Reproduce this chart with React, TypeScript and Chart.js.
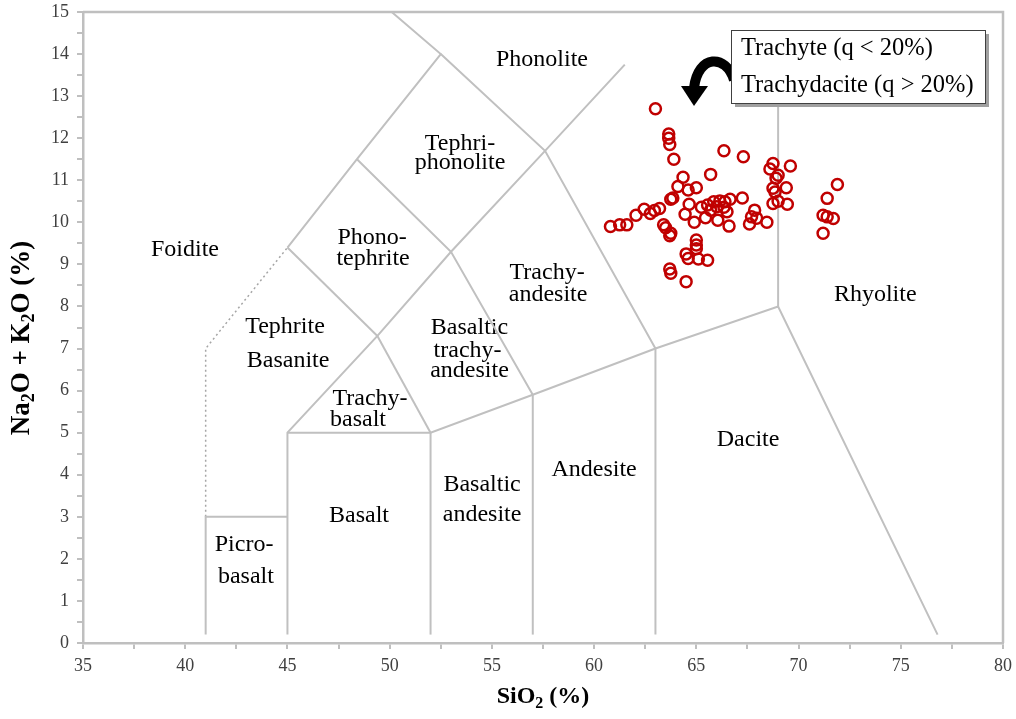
import React, { useEffect, useRef } from 'react';
import { Chart, registerables } from 'chart.js';

Chart.register(...registerables);

// ---- Axis ranges / ticks ----
const X_MIN = 35;
const X_MAX = 80;
const Y_MIN = 0;
const Y_MAX = 15;
const X_STEP = 2.5; // labelled every 5
const Y_STEP = 0.5; // labelled every 1

// ---- Sample data (SiO2 %, Na2O+K2O %) ----
const sampleSiO2 = [
  63.0, 63.65, 63.65, 63.7, 63.9, 66.35, 67.3, 68.75, 68.6, 69.6,
  69.0, 68.9, 68.75, 68.85, 69.4, 68.75, 69.0, 69.45, 71.9, 71.4,
  71.2, 71.4, 71.7, 71.2, 60.8, 61.25, 61.6, 62.05, 62.45, 62.75,
  62.95, 63.2, 63.75, 63.85, 64.35, 64.1, 64.6, 65.0, 65.7, 67.25,
  64.65, 64.45, 64.9, 65.45, 65.25, 65.55, 65.85, 66.15, 66.4, 66.65,
  65.7, 66.0, 66.35, 66.5, 66.05, 66.6, 67.85, 67.7, 67.95, 67.6,
  68.45, 63.4, 63.5, 63.75, 63.7, 65.0, 65.0, 65.0, 64.5, 64.6,
  65.1, 65.55, 63.7, 63.75, 64.5,
];
const sampleAlkali = [
  12.7, 12.1, 12.0, 11.85, 11.5, 11.7, 11.56, 11.4, 11.27, 11.34,
  11.12, 11.05, 10.81, 10.72, 10.82, 10.45, 10.5, 10.43, 10.9, 10.57,
  10.17, 10.13, 10.09, 9.74, 9.9, 9.94, 9.94, 10.17, 10.31, 10.21,
  10.28, 10.33, 10.55, 10.58, 11.07, 10.85, 10.77, 10.82, 11.14, 10.58,
  10.43, 10.19, 10.0, 10.11, 10.36, 10.41, 10.49, 10.51, 10.49, 10.55,
  10.29, 10.37, 10.36, 10.25, 10.05, 9.91, 10.29, 10.13, 10.1, 9.96,
  10.0, 9.94, 9.87, 9.74, 9.68, 9.58, 9.46, 9.37, 9.25, 9.14,
  9.13, 9.1, 8.89, 8.79, 8.59,
];

// ---- TAS field boundaries (data coordinates) ----
const boundaryLines: number[][][] = [
  [[41, 0.2], [41, 3], [45, 3]],
  [[45, 0.2], [45, 5], [49.4, 7.3], [53, 9.3], [57.6, 11.7], [61.5, 13.75]],
  [[45, 5], [52, 5], [57, 5.9], [63, 7], [69, 8], [76.8, 0.2]],
  [[52, 0.2], [52, 5]],
  [[57, 0.2], [57, 5.9]],
  [[63, 0.2], [63, 7]],
  [[69, 8], [69, 12.8]],
  [[49.4, 7.3], [52, 5]],
  [[45, 9.4], [49.4, 7.3]],
  [[45, 9.4], [48.4, 11.5], [52.5, 14], [50.1, 15]],
  [[48.4, 11.5], [53, 9.3], [57, 5.9]],
  [[52.5, 14], [57.6, 11.7], [63, 7]],
];
const dottedBoundary: number[][] = [[41, 3], [41, 7], [45, 9.4]];

// ---- Field names (text, SiO2, alkali) ----
const fieldNames: string[] = [
  'Phonolite', 'Tephri-', 'phonolite', 'Foidite', 'Phono-', 'tephrite',
  'Trachy-', 'andesite', 'Rhyolite', 'Tephrite', 'Basanite',
  'Basaltic', 'trachy-', 'andesite', 'Trachy-', 'basalt', 'Dacite',
  'Andesite', 'Basaltic', 'andesite', 'Basalt', 'Picro-', 'basalt',
];
const fieldX: number[] = [
  57.45, 53.44, 53.44, 39.99, 49.14, 49.19,
  57.7, 57.75, 73.75, 44.88, 45.03,
  53.905, 53.81, 53.905, 49.04, 48.45, 67.53,
  60.0, 54.52, 54.52, 48.5, 42.88, 42.97,
];
const fieldY: number[] = [
  13.86, 11.88, 11.41, 9.34, 9.63, 9.13,
  8.8, 8.27, 8.27, 7.51, 6.7,
  7.49, 6.96, 6.47, 5.8, 5.3, 4.83,
  4.11, 3.76, 3.05, 3.02, 2.33, 1.57,
];

const legendLines = ['Trachyte (q < 20%)', 'Trachydacite (q > 20%)'];

const SERIF = '"Liberation Serif", "Times New Roman", serif';
const GRAY = '#bfbfbf';
const RED = 'rgb(192,0,0)';

type Seg = { t: string; sub?: boolean };
function drawRich(ctx: CanvasRenderingContext2D, segs: Seg[], size: number, cx: number, cy: number) {
  const main = `bold ${size}px ${SERIF}`;
  const small = `bold ${Math.round(size * 0.65)}px ${SERIF}`;
  let total = 0;
  for (const s of segs) {
    ctx.font = s.sub ? small : main;
    total += ctx.measureText(s.t).width;
  }
  let x = cx - total / 2;
  ctx.textBaseline = 'middle';
  ctx.textAlign = 'left';
  for (const s of segs) {
    ctx.font = s.sub ? small : main;
    ctx.fillText(s.t, x, s.sub ? cy + size * 0.28 : cy);
    x += ctx.measureText(s.t).width;
  }
}

const decorPlugin = {
  id: 'tasDecor',
  beforeDatasetsDraw(chart: any) {
    const { ctx, chartArea, scales } = chart;
    ctx.save();
    // frame top & right
    ctx.strokeStyle = GRAY;
    ctx.lineWidth = 2.5;
    ctx.beginPath();
    ctx.moveTo(chartArea.left, chartArea.top);
    ctx.lineTo(chartArea.right, chartArea.top);
    ctx.lineTo(chartArea.right, chartArea.bottom);
    ctx.stroke();
    // field names
    ctx.fillStyle = '#000';
    ctx.font = `24px ${SERIF}`;
    ctx.textAlign = 'center';
    ctx.textBaseline = 'middle';
    for (let i = 0; i < fieldNames.length; i++) {
      ctx.fillText(fieldNames[i], scales.x.getPixelForValue(fieldX[i]), scales.y.getPixelForValue(fieldY[i]));
    }
    ctx.restore();
  },
  afterDraw(chart: any) {
    const { ctx, chartArea } = chart;
    ctx.save();
    // axis titles
    ctx.fillStyle = '#000';
    drawRich(ctx, [{ t: 'SiO' }, { t: '2', sub: true }, { t: ' (%)' }], 24, (chartArea.left + chartArea.right) / 2, 697);
    ctx.save();
    ctx.translate(22, 338);
    ctx.rotate(-Math.PI / 2);
    drawRich(ctx, [
      { t: 'Na' }, { t: '2', sub: true }, { t: 'O + K' }, { t: '2', sub: true }, { t: 'O (%)' },
    ], 27, 0, 0);
    ctx.restore();

    // curved arrow
    ctx.strokeStyle = '#000';
    ctx.fillStyle = '#000';
    ctx.lineWidth = 10;
    ctx.lineCap = 'butt';
    ctx.beginPath();
    ctx.moveTo(734, 80);
    ctx.bezierCurveTo(726, 54, 698, 54, 694, 88);
    ctx.stroke();
    ctx.beginPath();
    ctx.moveTo(681, 86);
    ctx.lineTo(708, 86);
    ctx.lineTo(694, 106);
    ctx.closePath();
    ctx.fill();

    // legend box with shadow
    const bx = 731, by = 30, bw = 254, bh = 73;
    ctx.fillStyle = '#a0a0a0';
    ctx.fillRect(bx + 4, by + 4, bw, bh);
    ctx.fillStyle = '#fff';
    ctx.fillRect(bx, by, bw, bh);
    ctx.strokeStyle = '#404040';
    ctx.lineWidth = 1;
    ctx.strokeRect(bx + 0.5, by + 0.5, bw, bh);
    ctx.fillStyle = '#000';
    ctx.font = `24.5px ${SERIF}`;
    ctx.textAlign = 'left';
    ctx.textBaseline = 'middle';
    ctx.fillText(legendLines[0], bx + 10, by + 19);
    ctx.fillText(legendLines[1], bx + 10, by + 56);
    ctx.restore();
  },
};

export default function App() {
  const ref = useRef<HTMLCanvasElement | null>(null);
  useEffect(() => {
    if (!ref.current) return;
    const lineSets: any[] = boundaryLines.map((pl) => ({
      data: pl.map(([x, y]) => ({ x, y })),
      showLine: true,
      borderColor: '#c0c0c0',
      borderWidth: 2,
      pointRadius: 0,
      fill: false,
      tension: 0,
      order: 2,
    }));
    lineSets.push({
      data: dottedBoundary.map(([x, y]) => ({ x, y })),
      showLine: true,
      borderColor: '#a6a6a6',
      borderWidth: 1.5,
      borderDash: [2, 3],
      pointRadius: 0,
      fill: false,
      order: 2,
    });
    const points = {
      data: sampleSiO2.map((x, i) => ({ x, y: sampleAlkali[i] })),
      showLine: false,
      pointRadius: 5.5,
      pointBorderWidth: 2.5,
      pointBorderColor: RED,
      pointBackgroundColor: 'rgba(0,0,0,0)',
      order: 0,
    };
    const chart = new Chart(ref.current, {
      type: 'scatter',
      data: { datasets: [points as any, ...lineSets] },
      options: {
        animation: false,
        responsive: false,
        maintainAspectRatio: false,
        layout: { padding: { top: 12, right: 13, left: 0, bottom: 0 } },
        plugins: { legend: { display: false }, tooltip: { enabled: false } },
        scales: {
          x: {
            type: 'linear',
            min: X_MIN,
            max: X_MAX,
            afterFit: (s: any) => { s.height = 76; s.paddingLeft = 0; s.paddingRight = 0; },
            ticks: {
              stepSize: X_STEP,
              autoSkip: false,
              maxRotation: 0,
              padding: 6,
              color: '#404040',
              font: { family: SERIF, size: 18 },
              callback: (v: any) => (Number(v) % 5 === 0 ? String(v) : ''),
            },
            grid: { drawOnChartArea: false, drawTicks: true, tickLength: 6, color: GRAY, lineWidth: 2 },
            border: { color: GRAY, width: 2.5 },
          },
          y: {
            type: 'linear',
            min: Y_MIN,
            max: Y_MAX,
            afterFit: (s: any) => { s.width = 83; s.paddingTop = 0; s.paddingBottom = 0; },
            ticks: {
              stepSize: Y_STEP,
              autoSkip: false,
              padding: 8,
              color: '#404040',
              font: { family: SERIF, size: 18 },
              callback: (v: any) => (Number(v) % 1 === 0 ? String(v) : ''),
            },
            grid: { drawOnChartArea: false, drawTicks: true, tickLength: 6, color: GRAY, lineWidth: 2 },
            border: { color: GRAY, width: 2.5 },
          },
        },
      },
      plugins: [decorPlugin],
    });
    return () => chart.destroy();
  }, []);
  return (
    <div style={{ position: 'fixed', left: 0, top: 0, width: 1016, height: 719, background: '#fff' }}>
      <canvas ref={ref} width={1016} height={719} style={{ width: 1016, height: 719 }} />
    </div>
  );
}
